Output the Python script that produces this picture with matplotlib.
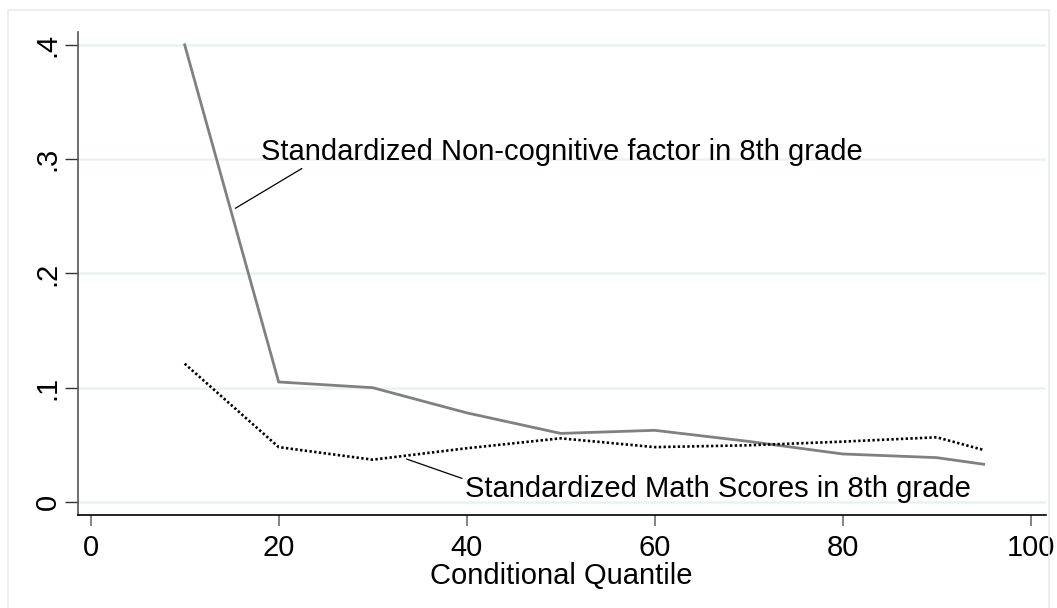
import matplotlib
matplotlib.use("Agg")
import matplotlib.pyplot as plt
from matplotlib.patches import Rectangle

quantiles = [10, 20, 30, 40, 50, 60, 70, 80, 90, 95]
noncog = [0.400, 0.105, 0.100, 0.078, 0.060, 0.0627, 0.053, 0.042, 0.0388, 0.033]
math_scores = [0.121, 0.048, 0.037, 0.047, 0.0557, 0.048, 0.0496, 0.0528, 0.0566, 0.0455]
xticks = [0, 20, 40, 60, 80, 100]
yticks = [0, 0.1, 0.2, 0.3, 0.4]
ytick_labels = ["0", ".1", ".2", ".3", ".4"]
label_noncog = "Standardized Non-cognitive factor in 8th grade"
label_math = "Standardized Math Scores in 8th grade"
xlabel = "Conditional Quantile"

plt.rcParams['font.family'] = ['Liberation Sans', 'DejaVu Sans']
FS = 21

W, H = 1057, 608
fig = plt.figure(figsize=(W / 100, H / 100), dpi=100)
fig.patches.append(Rectangle((8 / W, -0.01), (1049 - 8) / W, (H - 10) / H + 0.01,
                             transform=fig.transFigure, fill=False,
                             edgecolor='#e6edf0', lw=1.2))

ax = fig.add_axes([77.7 / W, (H - 515) / H, (1045.7 - 77.7) / W, (515 - 31.7) / H])
ax.set_xlim(-1.38, 101.6)
ax.set_ylim(-0.0114, 0.4115)

for y in yticks:
    ax.axhline(y, color='#eaf1f3', lw=1.8, zorder=0)

ax.plot(quantiles, noncog, color='#808080', lw=2.0, solid_joinstyle='miter', zorder=3)
ax.plot(quantiles, math_scores, color='black', lw=1.9, linestyle=(0, (0.9, 0.9)), zorder=3)

# annotations
ax.annotate(label_noncog, xy=(15.4, 0.257), xytext=(18.1, 0.3065),
            fontsize=FS, ha='left', va='center',
            arrowprops=dict(arrowstyle='-', color='black', lw=0.9,
                            shrinkA=0, shrinkB=0, relpos=(0.076, 0.0)))
ax.annotate(label_math, xy=(33.6, 0.0376), xytext=(39.8, 0.0112),
            fontsize=FS, ha='left', va='center',
            arrowprops=dict(arrowstyle='-', color='black', lw=0.9,
                            shrinkA=0, shrinkB=0, relpos=(0.0, 0.85)))

ax.set_xticks(xticks)
ax.set_xticklabels([str(x) for x in xticks], fontsize=FS)
ax.set_yticks(yticks)
ax.set_yticklabels(ytick_labels, fontsize=FS, rotation=90, va='center')
ax.tick_params(axis='x', length=8, width=1.2, color='#707070', pad=6)
ax.tick_params(axis='y', length=9.5, width=1.0, color='#333333', pad=2)
ax.set_xlabel(xlabel, fontsize=FS, labelpad=0)

for s in ['top', 'right']:
    ax.spines[s].set_visible(False)
ax.spines['left'].set_color('#555555')
ax.spines['left'].set_linewidth(1.2)
ax.spines['bottom'].set_color('black')
ax.spines['bottom'].set_linewidth(1.2)

fig.savefig('out.png', dpi=100)
